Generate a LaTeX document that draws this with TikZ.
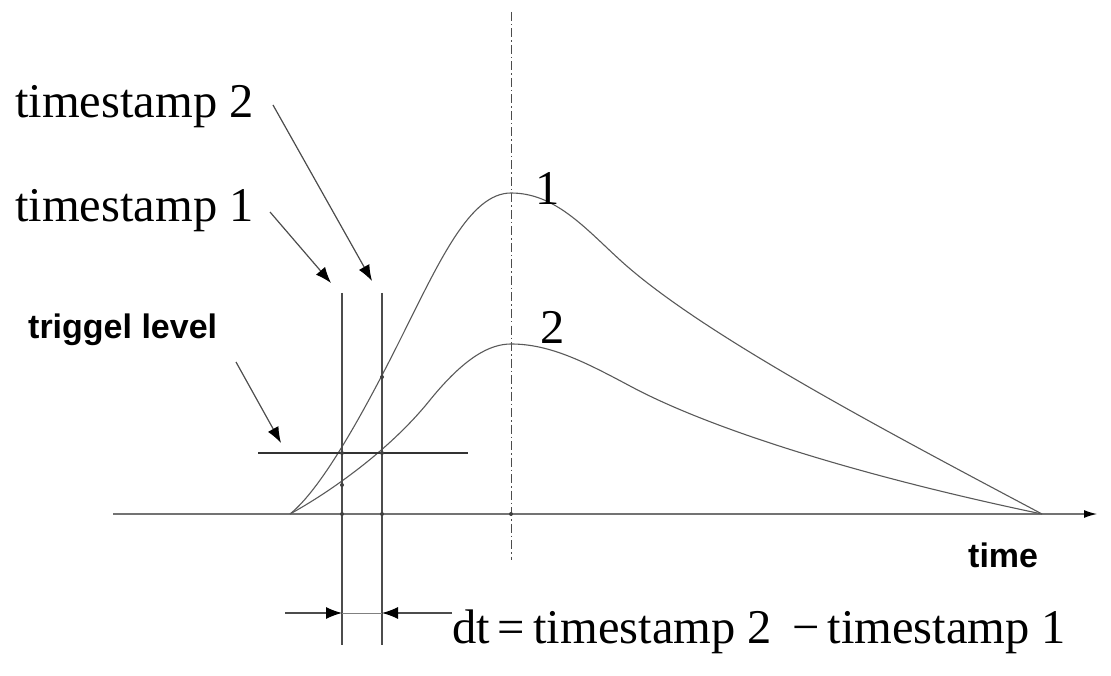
\documentclass[tikz,border=0pt]{standalone}
\usepackage{fontspec}
\setmainfont{Liberation Serif}
\setsansfont{Liberation Sans}
\usetikzlibrary{arrows.meta}
\begin{document}
\begin{tikzpicture}[x=1pt,y=-1pt,
  curve/.style={draw=black!65,line width=1.1pt},
  axisline/.style={draw=black!55,line width=1.2pt},
  vline/.style={draw=black!70,line width=1.1pt},
  pointer/.style={draw=black!70,line width=1.2pt,-{Latex[length=16pt,width=12pt,color=black]}},
  serif/.style={inner sep=0pt,font=\fontsize{48.5}{52}\selectfont},
  sans/.style={inner sep=0pt,font=\sffamily\bfseries\fontsize{34}{38}\selectfont},
  dot/.style={fill=black!75,draw=none}]
\useasboundingbox (0,0) rectangle (1111,676);
% axis
\coordinate (ax0) at (113,514);
\coordinate (ax1) at (1097,514);
\draw[axisline,-{Latex[length=13pt,width=8pt,color=black]}] (ax0) -- (ax1);
% dash-dot peak line
\coordinate (pk0) at (511,12);
\coordinate (pk1) at (511,560);
\draw[draw=black!70,line width=0.9pt,dash pattern=on 9pt off 3pt on 1.5pt off 3pt] (pk0) -- (pk1);
% curves
\draw[curve] (290,514) .. controls (320,490) and (360,420) .. (400,340)
  .. controls (440,260) and (470,193) .. (511,193)
  .. controls (555,193) and (585,228) .. (620,260)
  .. controls (700,333) and (880,428) .. (1042,514);
\draw[curve] (290,514) .. controls (330,492) and (390,450) .. (430,400)
  .. controls (465,357) and (490,344) .. (511,344)
  .. controls (550,344) and (585,362) .. (630,386)
  .. controls (710,429) and (860,476) .. (1042,514);
% trigger line
\coordinate (tr0) at (258,453);
\coordinate (tr1) at (468,453);
\draw[draw=black!80,line width=1.4pt] (tr0) -- (tr1);
% timestamp verticals
\coordinate (v1t) at (342,293);
\coordinate (v1b) at (342,645);
\coordinate (v2t) at (382,293);
\coordinate (v2b) at (382,645);
\draw[vline] (v1t) -- (v1b);
\draw[vline] (v2t) -- (v2b);
% dots
\foreach \p in {(342,453),(382,453),(342,514),(382,514),(511,514),(342,485),(382,377)}
  \fill[dot] \p circle (2pt);
% labels
\node[serif,anchor=base west] (ts2) at (15,118) {timestamp 2};
\node[serif,anchor=base west] (ts1) at (15,222) {timestamp 1};
\node[sans,anchor=base west] (trig) at (28,338) {triggel level};
\node[sans,anchor=base west] (time) at (968,567) {time};
\node[serif,anchor=base] (one) at (548,205) {1};
\node[serif,anchor=base] (two) at (553,343) {2};
\node[serif,anchor=base west] (dt) at (452,643) {dt\,=\,timestamp 2 \,\char"2212\,timestamp 1};
% pointers
\coordinate (p2s) at (273,105);
\coordinate (p2e) at (372,281);
\coordinate (p1s) at (270,212);
\coordinate (p1e) at (331,283);
\coordinate (pts) at (236,362);
\coordinate (pte) at (281,443);
\draw[pointer] (p2s) -- (p2e);
\draw[pointer] (p1s) -- (p1e);
\draw[pointer] (pts) -- (pte);
% dt arrows
\coordinate (dl) at (285,613);
\coordinate (dr) at (452,613);
\coordinate (d1) at (342,613);
\coordinate (d2) at (382,613);
\draw[pointer] (dl) -- (d1);
\draw[pointer] (dr) -- (d2);
\draw[draw=black!50,line width=0.8pt] (d1) -- (d2);
\end{tikzpicture}
\end{document}
